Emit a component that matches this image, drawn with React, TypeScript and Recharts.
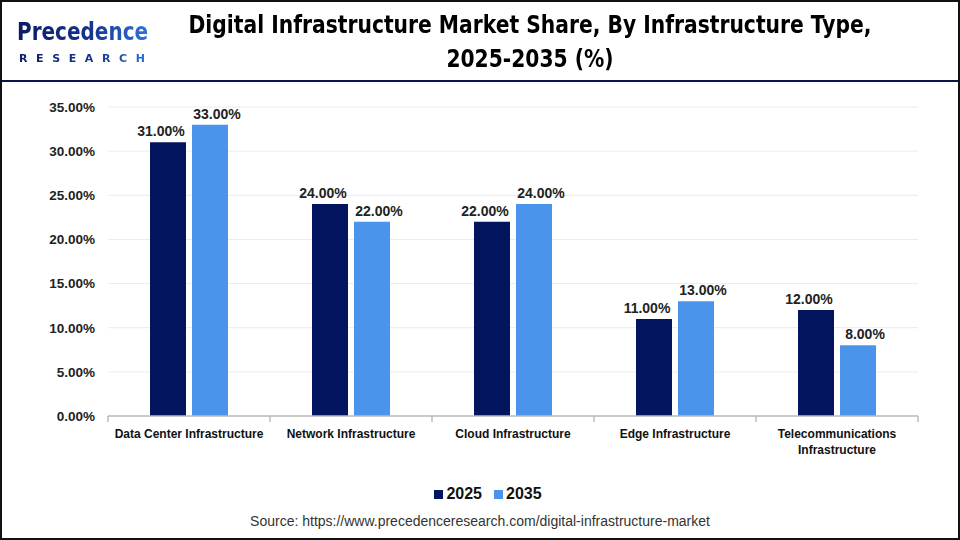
import { Bar, BarChart, CartesianGrid, LabelList, XAxis, YAxis } from 'recharts';

const categories = [
  'Data Center Infrastructure',
  'Network Infrastructure',
  'Cloud Infrastructure',
  'Edge Infrastructure',
  'Telecommunications Infrastructure',
];
const share2025 = [31, 24, 22, 11, 12];
const share2035 = [33, 22, 24, 13, 8];
const yTicks = [0, 5, 10, 15, 20, 25, 30, 35];

const NAVY = '#03155f';
const BLUE = '#4a94ec';
const HEAD = '"DejaVu Sans", sans-serif';
const ARIAL = 'Arial, "Liberation Sans", sans-serif';

const data = categories.map((name, i) => ({
  name,
  y2025: share2025[i],
  y2035: share2035[i],
}));

const pct = (v: number) => `${Number(v).toFixed(2)}%`;

// category tick: label text plus boundary tick marks on the axis
function CategoryTick(props: any) {
  const { x, y, payload, index, visibleTicksCount } = props;
  const band = 162;
  const lines: string[] =
    payload.value === 'Telecommunications Infrastructure'
      ? ['Telecommunications', 'Infrastructure']
      : [payload.value];
  return (
    <g>
      <line x1={x - band / 2} x2={x - band / 2} y1={y - 8} y2={y - 2} stroke="#bbbbbb" strokeWidth={1.5} />
      {index === visibleTicksCount - 1 && (
        <line x1={x + band / 2} x2={x + band / 2} y1={y - 8} y2={y - 2} stroke="#bbbbbb" strokeWidth={1.5} />
      )}
      <text textAnchor="middle" fontWeight={700} fontSize={12} fill="#111" fontFamily={ARIAL}>
        {lines.map((l, i) => (
          <tspan key={i} x={x} y={y + 14 + i * 16}>
            {l}
          </tspan>
        ))}
      </text>
    </g>
  );
}

const labelStyle = { fontFamily: ARIAL, fontWeight: 700, fontSize: 14, fill: '#222' };

const logoGradient = {
  background: 'linear-gradient(90deg, #0b1c66 0%, #15328f 55%, #2f73d9 100%)',
  WebkitBackgroundClip: 'text',
  backgroundClip: 'text',
  color: 'transparent',
} as const;

export default function App() {
  return (
    <div
      style={{
        position: 'fixed',
        left: 0,
        top: 0,
        width: 960,
        height: 540,
        background: '#fff',
        boxSizing: 'border-box',
        border: '2px solid #111',
        overflow: 'hidden',
      }}
    >
      {/* logo */}
      <div style={{ position: 'absolute', left: 15, top: 15, width: 160, fontFamily: HEAD }}>
        <div
          style={{
            fontSize: 25,
            fontWeight: 700,
            lineHeight: '30px',
            transform: 'scaleX(0.8)',
            transformOrigin: 'left center',
            display: 'inline-block',
            ...logoGradient,
          }}
        >
          Precedence
        </div>
        <div
          style={{
            fontSize: 11,
            fontWeight: 700,
            letterSpacing: 8.6,
            marginLeft: 2,
            marginTop: 1,
            display: 'inline-block',
            ...logoGradient,
          }}
        >
          RESEARCH
        </div>
      </div>

      {/* title */}
      <div
        style={{
          position: 'absolute',
          left: 28,
          width: 1000,
          top: 6,
          textAlign: 'center',
          fontFamily: HEAD,
          fontWeight: 700,
          fontSize: 24,
          lineHeight: '34px',
          color: '#000',
          whiteSpace: 'nowrap',
          transform: 'scaleX(0.845)',
          transformOrigin: '500px 0',
        }}
      >
        Digital Infrastructure Market Share, By Infrastructure Type,
        <br />
        2025-2035 (%)
      </div>
      <div style={{ position: 'absolute', left: 0, top: 78, width: 960, height: 2, background: '#0c1450' }} />

      <div style={{ position: 'absolute', left: -2, top: -2 }}>
        <BarChart
          width={960}
          height={540}
          data={data}
          margin={{ top: 107, right: 42, bottom: 56, left: 8 }}
          barSize={36}
          barGap={6}
        >
          <CartesianGrid vertical={false} stroke="#ebebeb" />
          <XAxis
            dataKey="name"
            interval={0}
            tickLine={false}
            axisLine={{ stroke: '#bbbbbb', strokeWidth: 1.5 }}
            tick={<CategoryTick />}
            height={68}
          />
          <YAxis
            domain={[0, 35]}
            ticks={yTicks}
            tickFormatter={pct}
            axisLine={false}
            tickLine={false}
            width={100}
            tickMargin={7}
            tick={{ fontFamily: ARIAL, fontWeight: 700, fontSize: 13.5, fill: '#222' }}
          />
          <Bar dataKey="y2025" name="2025" fill={NAVY} isAnimationActive={false}>
            <LabelList
              dataKey="y2025"
              position="top"
              offset={6}
              dx={-7}
              formatter={(v: any) => pct(v)}
              style={labelStyle}
            />
          </Bar>
          <Bar dataKey="y2035" name="2035" fill={BLUE} isAnimationActive={false}>
            <LabelList
              dataKey="y2035"
              position="top"
              offset={6}
              dx={7}
              formatter={(v: any) => pct(v)}
              style={labelStyle}
            />
          </Bar>
        </BarChart>
      </div>

      {/* legend */}
      <div
        style={{
          position: 'absolute',
          left: 8,
          width: 956,
          top: 483,
          display: 'flex',
          justifyContent: 'center',
          alignItems: 'center',
          gap: 12,
          fontFamily: ARIAL,
          fontWeight: 700,
          fontSize: 16,
          color: '#111',
        }}
      >
        {[
          ['2025', NAVY],
          ['2035', BLUE],
        ].map(([label, color]) => (
          <span key={label} style={{ display: 'flex', alignItems: 'center', gap: 3 }}>
            <span style={{ width: 9, height: 9, background: color, display: 'inline-block' }} />
            {label}
          </span>
        ))}
      </div>

      <div
        style={{
          position: 'absolute',
          left: 0,
          width: 956,
          top: 511,
          textAlign: 'center',
          fontFamily: ARIAL,
          fontSize: 14,
          color: '#333',
        }}
      >
        Source: https://www.precedenceresearch.com/digital-infrastructure-market
      </div>
    </div>
  );
}
